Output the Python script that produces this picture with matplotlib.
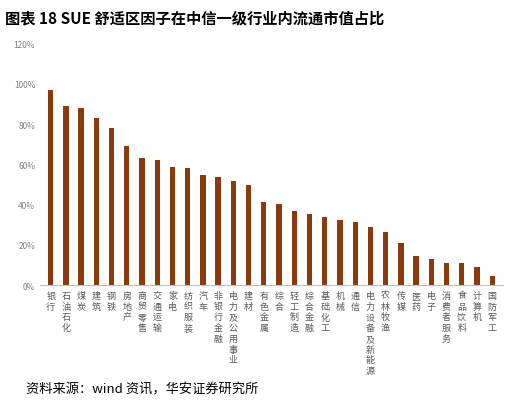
import matplotlib
matplotlib.use("Agg")
import matplotlib.pyplot as plt
from matplotlib.ticker import FuncFormatter

plt.rcParams["font.family"] = ["Noto Sans CJK SC", "DejaVu Sans"]

categories = ["银行", "石油石化", "煤炭", "建筑", "钢铁", "房地产", "商贸零售", "交通运输",
              "家电", "纺织服装", "汽车", "非银行金融", "电力及公用事业", "建材", "有色金属",
              "综合", "轻工制造", "综合金融", "基础化工", "机械", "通信", "电力设备及新能源",
              "农林牧渔", "传媒", "医药", "电子", "消费者服务", "食品饮料", "计算机", "国防军工"]
values = [97, 89, 88, 83, 78, 69, 63, 62, 58.5, 58, 55, 54, 52, 50, 41.5, 40.5,
          37, 35.5, 34, 32.5, 31.5, 29, 26.5, 21, 14.5, 13, 11, 11, 9, 4.5]

fig = plt.figure(figsize=(5.2, 4.06), dpi=100)
ax = fig.add_axes([0.077, 0.295, 0.89, 0.595])
x = range(len(categories))
ax.bar(x, values, width=0.35, color="#8B3A0E")
ax.set_ylim(0, 120)
ax.set_xlim(-0.7, len(categories) - 0.3)
ax.set_yticks(range(0, 121, 20))
ax.yaxis.set_major_formatter(FuncFormatter(lambda v, p: f"{int(v)}%"))
ax.tick_params(axis="y", labelsize=6, colors="#808080", length=0)
ax.set_xticks(list(x))
ax.set_xticklabels(["\n".join(c) for c in categories], fontsize=6.5,
                   color="#595959", linespacing=1.25, va="top", rotation=0,
                   ha="center", multialignment="center")
ax.tick_params(axis="x", length=0, pad=4)
for s in ["top", "right", "left"]:
    ax.spines[s].set_visible(False)
ax.spines["bottom"].set_color("#bfbfbf")

fig.text(0.01, 0.955, "图表 18 SUE 舒适区因子在中信一级行业内流通市值占比",
         fontsize=11, fontweight="bold", va="center")
fig.text(0.05, 0.04, "资料来源：wind 资讯，华安证券研究所", fontsize=9.5, va="center")
fig.savefig("out.png")
